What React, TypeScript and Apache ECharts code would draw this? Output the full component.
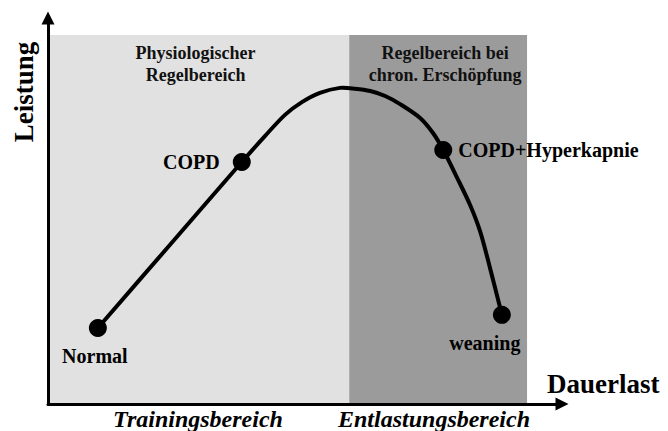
import React, { useEffect, useRef } from "react";
import * as echarts from "echarts";

// Curve through the conceptual "Leistung vs Dauerlast" relationship (abstract units 0-100)
const curveX = [9.7, 23.7, 37.7, 42.2, 46.1, 49.4, 52.9, 56.8, 59.7, 62.7, 65.6, 68.5, 72.4, 74.9, 76.9, 79.6, 82.1, 84.1, 86.0, 88.3];
const curveY = [19.7, 41.2, 62.7, 69.4, 74.9, 78.2, 80.6, 81.9, 81.7, 81.1, 79.8, 77.7, 74.1, 70.2, 65.8, 58.6, 51.6, 44.6, 35.2, 23.1];

// Marked states
const pointNames = ["Normal", "COPD", "COPD+Hyperkapnie", "weaning"];
const pointX = [9.7, 37.7, 76.9, 88.3];
const pointY = [19.7, 62.7, 65.8, 23.1];

// Shaded regions
const regionNames = ["Physiologischer\nRegelbereich", "Regelbereich bei\nchron. Erschöpfung"];
const regionStart = [0, 58.6];
const regionEnd = [58.6, 93.2];
const regionTop = 95.6;

// Axis and zone captions
const yAxisName = "Leistung";
const xAxisName = "Dauerlast";
const zoneNames = ["Trainingsbereich", "Entlastungsbereich"];

const FONT = '"Liberation Serif", "Times New Roman", serif';

export default function App() {
  const ref = useRef<HTMLDivElement>(null);
  useEffect(() => {
    if (!ref.current) return;
    const chart = echarts.init(ref.current, undefined, { renderer: "svg" });
    const regionColors = ["#e1e1e1", "#9b9b9b"];
    const labelPos: any[] = [
      { position: "bottom", distance: 9, offset: [-3, 0] },
      { position: "left", distance: 13 },
      { position: "right", distance: 6 },
      { position: "bottom", distance: 9, offset: [-17, 0] },
    ];
    const axisCommon = {
      type: "value",
      min: 0,
      max: 100,
      z: 10,
      axisLine: {
        show: true,
        symbol: ["none", "triangle"],
        symbolSize: [13, 13],
        lineStyle: { color: "#000", width: 3 },
      },
      axisTick: { show: false },
      axisLabel: { show: false },
      splitLine: { show: false },
    };
    chart.setOption({
      animation: false,
      grid: { left: 48, right: 106, top: 18, bottom: 27 },
      xAxis: { ...axisCommon },
      yAxis: { ...axisCommon },
      series: [
        {
          type: "line",
          z: 1,
          data: [],
          markArea: {
            silent: true,
            data: regionNames.map((n, i) => [
              {
                name: n,
                xAxis: regionStart[i],
                yAxis: 0,
                itemStyle: { color: regionColors[i], opacity: 1 },
                label: {
                  show: true,
                  position: "insideTop",
                  distance: 7,
                  offset: i === 1 ? [7, 0] : [-3, 0],
                  color: "#111",
                  fontFamily: FONT,
                  fontWeight: "bold",
                  fontSize: 18,
                  lineHeight: 22,
                  align: "center",
                },
              },
              { xAxis: regionEnd[i], yAxis: regionTop },
            ]),
          },
        },
        {
          type: "custom",
          z: 3,
          silent: true,
          data: [0],
          renderItem: (_params: any, api: any) => ({
            type: "polyline",
            shape: {
              points: curveX.map((x, i) => api.coord([x, curveY[i]])),
              smooth: 0.3,
            },
            style: { stroke: "#000", lineWidth: 4, fill: "none", lineJoin: "round", lineCap: "round" },
          }),
        },
        {
          type: "scatter",
          z: 4,
          symbolSize: 18,
          itemStyle: { color: "#000", opacity: 1 },
          data: pointNames.map((n, i) => ({
            name: n,
            value: [pointX[i], pointY[i]],
            label: {
              show: true,
              formatter: "{b}",
              color: "#000",
              opacity: 1,
              fontFamily: FONT,
              fontWeight: "bold",
              fontSize: 20,
              ...labelPos[i],
            },
          })),
        },
      ],
      graphic: [
        {
          type: "text",
          x: 24,
          y: 92,
          rotation: Math.PI / 2,
          style: {
            text: yAxisName,
            fontFamily: FONT,
            fontWeight: "bold",
            fontSize: 27,
            fill: "#000",
            align: "center",
            verticalAlign: "middle",
          },
        },
        {
          type: "text",
          x: 547,
          y: 384,
          style: {
            text: xAxisName,
            fontFamily: FONT,
            fontWeight: "bold",
            fontSize: 27,
            fill: "#000",
            align: "left",
            verticalAlign: "middle",
          },
        },
        {
          type: "text",
          x: 198,
          y: 419,
          style: {
            text: zoneNames[0],
            fontFamily: FONT,
            fontWeight: "bold",
            fontStyle: "italic",
            fontSize: 24,
            fill: "#000",
            align: "center",
            verticalAlign: "middle",
          },
        },
        {
          type: "text",
          x: 434,
          y: 419,
          style: {
            text: zoneNames[1],
            fontFamily: FONT,
            fontWeight: "bold",
            fontStyle: "italic",
            fontSize: 24,
            fill: "#000",
            align: "center",
            verticalAlign: "middle",
          },
        },
      ],
    });
    return () => chart.dispose();
  }, []);
  return <div ref={ref} style={{ width: 668, height: 431, position: "absolute", left: 0, top: 0 }} />;
}
